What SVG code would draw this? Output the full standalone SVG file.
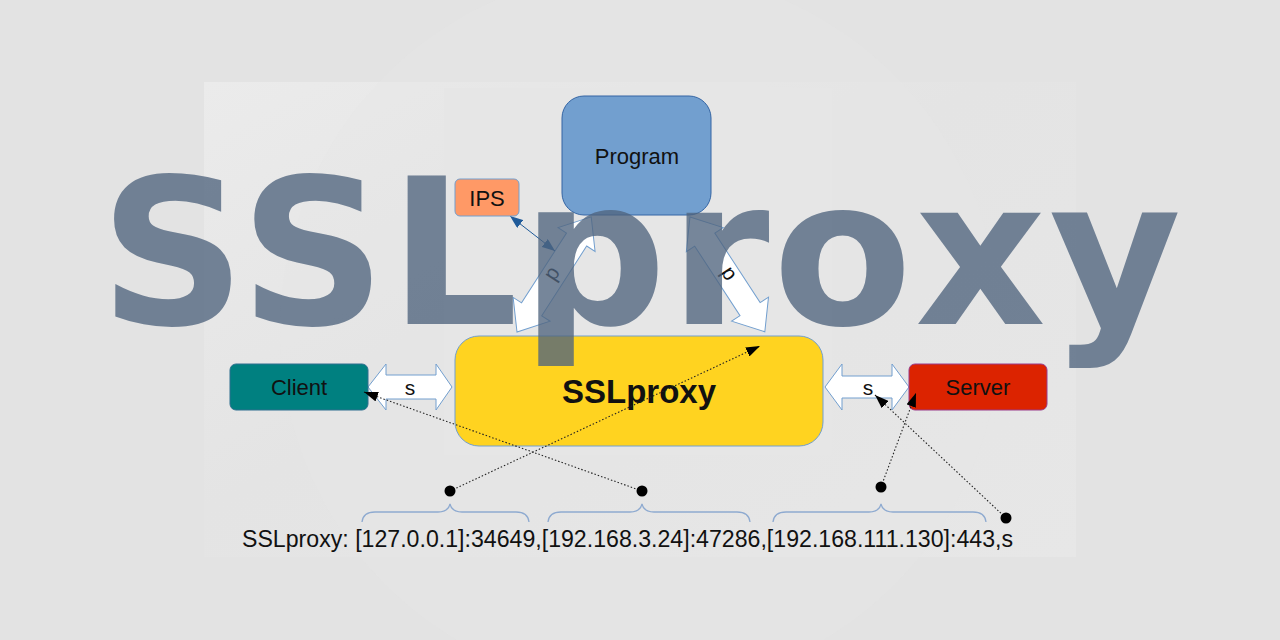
<svg xmlns="http://www.w3.org/2000/svg" width="1280" height="640" viewBox="0 0 1280 640">
  <defs>
    <linearGradient id="panelGrad" x1="0" y1="0" x2="1" y2="1">
      <stop offset="0" stop-color="#ebebeb"/>
      <stop offset="0.45" stop-color="#e4e4e4"/>
      <stop offset="1" stop-color="#e7e7e7"/>
    </linearGradient>
    <marker id="blackHead" viewBox="0 0 14 10" refX="14" refY="5" markerWidth="14" markerHeight="10" markerUnits="userSpaceOnUse" orient="auto">
      <path d="M0,0 L14,5 L0,10 Z" fill="#000"/>
    </marker>
    <marker id="blueHead" viewBox="0 0 13 10" refX="13" refY="5" markerWidth="13" markerHeight="10" markerUnits="userSpaceOnUse" orient="auto-start-reverse">
      <path d="M0,0 L13,5 L0,10 Z" fill="#1f5a99"/>
    </marker>
    <path id="pArrow" d="M0,0 L27,-22 L27,-12 L110,-12 L110,-22 L137,0 L110,22 L110,12 L27,12 L27,22 Z"/>
  </defs>
  <style>
    .node-text { font-family: "Liberation Sans", Arial, sans-serif; font-size: 22px; fill: #111; text-anchor: middle; }
    .block { fill: #ffffff; stroke: #729fcf; stroke-width: 1; }
    .lbl { font-family: "Liberation Sans", Arial, sans-serif; font-size: 21px; fill: #111; text-anchor: middle; }
    .dotted { fill: none; stroke: #222; stroke-width: 1.1; stroke-dasharray: 1.5 2; marker-end: url(#blackHead); }
    .brace { fill: none; stroke: #8eaad0; stroke-width: 1.3; }
    .dot { fill: #000; }
  </style>

  <!-- background -->
  <rect x="0" y="0" width="1280" height="640" fill="#e3e3e3"/>
  <rect x="204" y="82" width="872" height="475" fill="url(#panelGrad)"/>
  <circle cx="640" cy="330" r="360" fill="#e5e5e5" opacity="0.4"/>
  <rect x="444" y="88" width="388" height="367" fill="#e6e6e6"/>

  <!-- connectors -->
  <g id="connectors">
    <g id="arrow-ssl-client">
      <polygon class="block" points="368,387 386,364 386,375 436,375 436,364 452,387 436,410 436,399 386,399 386,410"/>
      <text class="lbl" x="410" y="395">s</text>
    </g>
    <g id="arrow-ssl-server">
      <polygon class="block" points="825,387 842,364 842,376 892,376 892,364 909,387 892,410 892,398 842,398 842,410"/>
      <text class="lbl" x="868" y="395">s</text>
    </g>
    <g id="arrow-program-ssl-left">
      <use href="#pArrow" class="block" transform="translate(517,332) rotate(-57.2)"/>
      <text class="lbl" transform="translate(554,275) rotate(-57.2)" x="0" y="4">p</text>
    </g>
    <g id="arrow-program-ssl-right">
      <use href="#pArrow" class="block" transform="translate(690,217) rotate(56.9)"/>
      <text class="lbl" transform="translate(727,275) rotate(56.9)" x="0" y="4">p</text>
    </g>
    <line id="arrow-ips-ssl" x1="510" y1="216" x2="555" y2="251" stroke="#1f5a99" stroke-width="1" marker-start="url(#blueHead)" marker-end="url(#blueHead)"/>
  </g>

  <!-- nodes -->
  <g id="program">
    <rect x="562" y="96" width="149" height="119" rx="22" fill="#729fcf" stroke="#3465a4" stroke-width="1"/>
    <text class="node-text" x="637" y="164">Program</text>
  </g>
  <g id="ips">
    <rect x="455" y="179" width="64" height="37" rx="5" fill="#ff9966" stroke="#729fcf" stroke-width="1"/>
    <text class="node-text" x="487" y="206">IPS</text>
  </g>
  <g id="sslproxy">
    <rect x="455" y="336" width="368" height="110" rx="24" fill="#ffd320" stroke="#729fcf" stroke-width="1"/>
    <text x="639" y="403" font-family="'Liberation Sans', Arial, sans-serif" font-size="33" font-weight="bold" fill="#111" text-anchor="middle">SSLproxy</text>
  </g>
  <g id="client">
    <rect x="230" y="364" width="138" height="46" rx="6" fill="#008080" stroke="#2f6f8f" stroke-width="1"/>
    <text class="node-text" x="299" y="395">Client</text>
  </g>
  <g id="server">
    <rect x="909" y="364" width="138" height="46" rx="6" fill="#dc2300" stroke="#9a3a8a" stroke-width="1"/>
    <text class="node-text" x="978" y="395">Server</text>
  </g>

  <!-- log line annotations -->
  <g id="dotted-connectors">
    <line class="dotted" x1="450" y1="491" x2="760" y2="346"/>
    <line class="dotted" x1="642" y1="491" x2="364" y2="392"/>
    <line class="dotted" x1="881" y1="487" x2="916" y2="393"/>
    <line class="dotted" x1="1006" y1="518" x2="875" y2="395"/>
  </g>
  <g id="dots">
    <circle class="dot" cx="450" cy="491" r="5.5"/>
    <circle class="dot" cx="642" cy="491" r="5.5"/>
    <circle class="dot" cx="881" cy="487" r="5.5"/>
    <circle class="dot" cx="1006" cy="518" r="5.5"/>
  </g>
  <g id="braces">
    <path class="brace" d="M362,522 Q363,512 375,512 L438,512 Q448,512 450,504 Q452,512 462,512 L516,512 Q528,512 529,522"/>
    <path class="brace" d="M548,522 Q549,512 561,512 L630,512 Q640,512 642,504 Q644,512 654,512 L737,512 Q749,512 750,522"/>
    <path class="brace" d="M773,522 Q774,512 786,512 L869,512 Q879,512 881,504 Q883,512 893,512 L973,512 Q985,512 986,522"/>
  </g>
  <text id="logline" x="242" y="547" font-family="'Liberation Sans', Arial, sans-serif" font-size="23" fill="#111" textLength="771" lengthAdjust="spacingAndGlyphs">SSLproxy: [127.0.0.1]:34649,[192.168.3.24]:47286,[192.168.111.130]:443,s</text>

  <!-- title overlay -->
  <text id="title" x="642" y="324" font-family="'DejaVu Sans', sans-serif" font-size="203" font-weight="bold" letter-spacing="3" fill="#4f647d" fill-opacity="0.78" text-anchor="middle">SSLproxy</text>
</svg>
